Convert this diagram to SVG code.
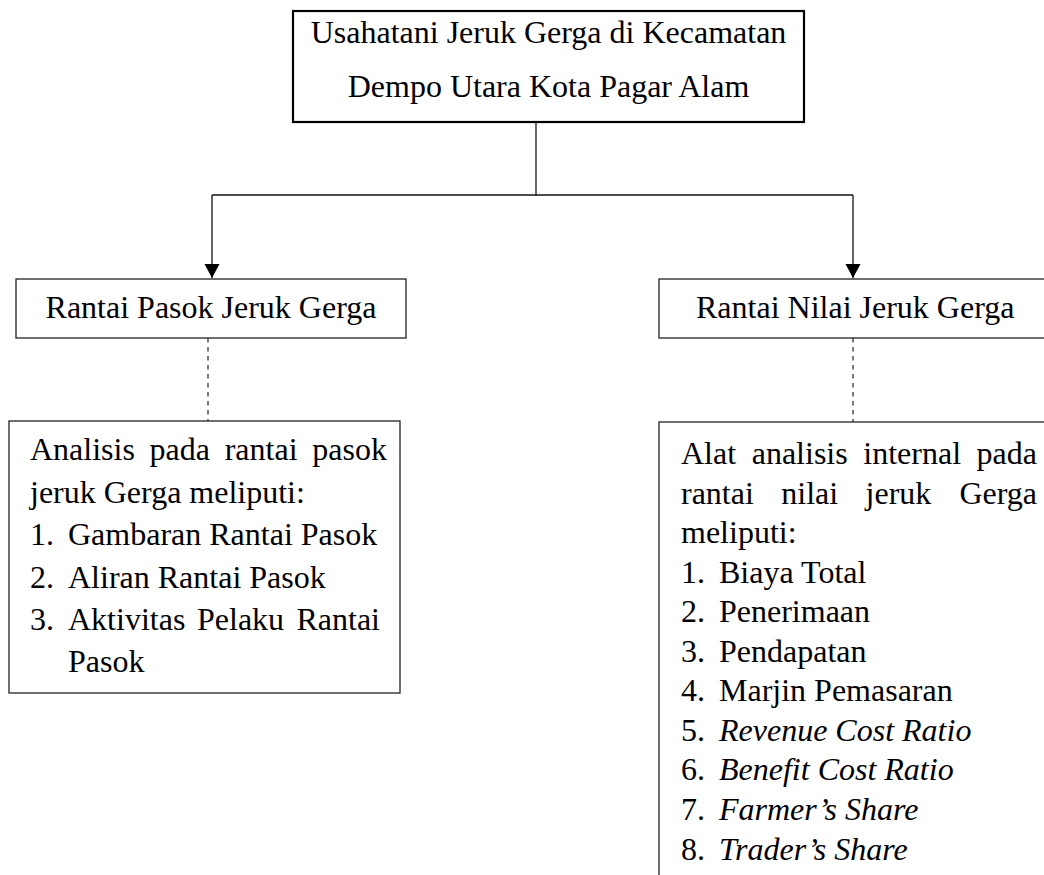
<svg xmlns="http://www.w3.org/2000/svg" width="1044" height="875" viewBox="0 0 1044 875">
<style>
text{font-family:"Liberation Serif","Times New Roman",serif;font-size:32px;fill:#000}
.c{text-anchor:middle}
.e{text-anchor:end}
.i{font-style:italic}
.box{fill:#fff;stroke:#222;stroke-width:1.3}
.main{fill:#fff;stroke:#000;stroke-width:2.2}
.con{fill:none;stroke:#111;stroke-width:1.3}
.stem{fill:none;stroke:#444;stroke-width:1.6}
.dash{fill:none;stroke:#333;stroke-width:1.3;stroke-dasharray:4.5 4.5}
</style>
<defs>
<marker id="arr" markerUnits="userSpaceOnUse" markerWidth="16" markerHeight="16" viewBox="0 0 16 16" refX="14" refY="8" orient="auto">
<path d="M0,0.5 L14,8 L0,15.5 z" fill="#000"/>
</marker>
</defs>
<rect width="1044" height="875" fill="#fff"/>
<g id="connectors">
<path class="stem" d="M536,122 V195"/>
<path class="con" d="M212,195 H853"/>
<path class="con" d="M212,195 V278" marker-end="url(#arr)"/>
<path class="con" d="M853,195 V278" marker-end="url(#arr)"/>
<path class="dash" d="M208,338 V421"/>
<path class="dash" d="M853,338 V422"/>
</g>
<g id="n-top">
<rect class="main" x="293" y="11" width="511" height="111"/>
<text class="c" x="548.5" y="43">Usahatani Jeruk Gerga di Kecamatan</text>
<text class="c" x="548.5" y="97">Dempo Utara Kota Pagar Alam</text>
</g>
<g id="n-pasok">
<rect class="box" x="16" y="279" width="390" height="59"/>
<text class="c" x="211" y="318">Rantai Pasok Jeruk Gerga</text>
</g>
<g id="n-nilai">
<rect class="box" x="659" y="279" width="410" height="59"/>
<text x="696" y="318">Rantai Nilai Jeruk Gerga</text>
</g>
<g id="n-pasok-analisis">
<rect class="box" x="9" y="421" width="391" height="272"/>
<text x="30" y="460">Analisis</text>
<text x="149.6" y="460">pada</text>
<text x="224.7" y="460">rantai</text>
<text class="e" x="387" y="460">pasok</text>
<text x="30" y="502.5">jeruk Gerga meliputi:</text>
<text x="30" y="545">1.</text><text x="68" y="545">Gambaran Rantai Pasok</text>
<text x="30" y="587.5">2.</text><text x="68" y="587.5">Aliran Rantai Pasok</text>
<text x="30" y="630">3.</text><text x="68" y="630">Aktivitas</text><text x="197" y="630">Pelaku</text><text class="e" x="380" y="630">Rantai</text>
<text x="68" y="672">Pasok</text>
</g>
<g id="n-nilai-analisis">
<rect class="box" x="659" y="422" width="410" height="470"/>
<text x="681" y="464">Alat</text>
<text x="751.7" y="464">analisis</text>
<text x="863.3" y="464">internal</text>
<text class="e" x="1037" y="464">pada</text>
<text x="681" y="503.5">rantai</text>
<text x="781.3" y="503.5">nilai</text>
<text x="865.6" y="503.5">jeruk</text>
<text class="e" x="1037" y="503.5">Gerga</text>
<text x="681" y="543">meliputi:</text>
<text x="681" y="582.5">1.</text><text x="719" y="582.5">Biaya Total</text>
<text x="681" y="622">2.</text><text x="719" y="622">Penerimaan</text>
<text x="681" y="661.5">3.</text><text x="719" y="661.5">Pendapatan</text>
<text x="681" y="701">4.</text><text x="719" y="701">Marjin Pemasaran</text>
<text x="681" y="740.5">5.</text><text class="i" x="719" y="740.5">Revenue Cost Ratio</text>
<text x="681" y="780">6.</text><text class="i" x="719" y="780">Benefit Cost Ratio</text>
<text x="681" y="820">7.</text><text class="i" x="719" y="820">Farmer’s Share</text>
<text x="681" y="860">8.</text><text class="i" x="719" y="860">Trader’s Share</text>
</g>
</svg>
